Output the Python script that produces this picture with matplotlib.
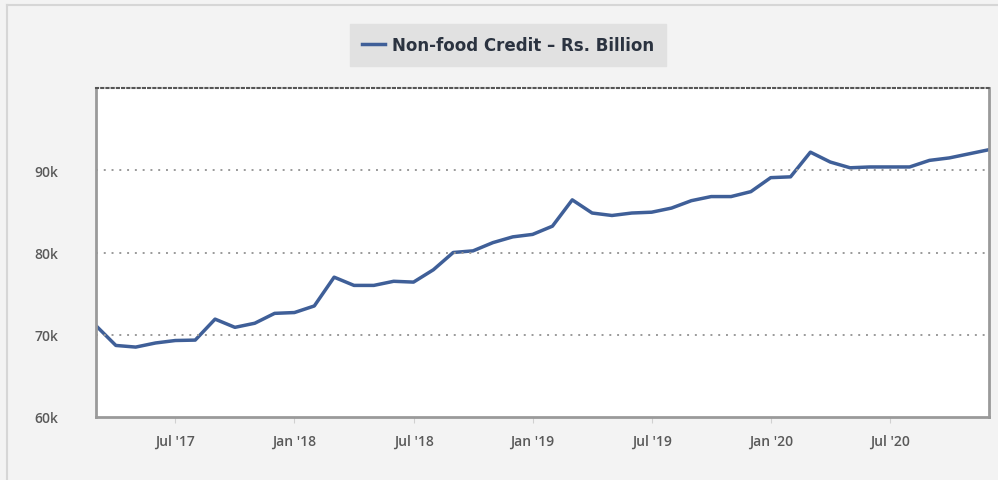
import matplotlib
matplotlib.use("Agg")
import matplotlib.pyplot as plt
from matplotlib.lines import Line2D

# monthly data, Mar 2017 .. Dec 2020 (Rs. Billion)
months = list(range(46))
credit = [71100, 68700, 68500, 69000, 69300, 69350, 71900, 70900, 71400, 72600,
          72700, 73500, 77000, 76000, 76000, 76500, 76400, 77900, 80000, 80200,
          81200, 81900, 82200, 83200, 86400, 84800, 84500, 84800, 84900, 85400,
          86300, 86800, 86800, 87400, 89100, 89200, 92200, 91000, 90300, 90400,
          90400, 90400, 91200, 91500, 92000, 92500]

tick_pos = [4, 10, 16, 22, 28, 34, 40]
tick_labels = ["Jul '17", "Jan '18", "Jul '18", "Jan '19", "Jul '19", "Jan '20", "Jul '20"]
y_ticks = [60000, 70000, 80000, 90000]
y_labels = ["60k", "70k", "80k", "90k"]

plt.rcParams['font.family'] = ['Open Sans', 'DejaVu Sans']

fig = plt.figure(figsize=(9.98, 4.81), dpi=100)
fig.patch.set_facecolor('#f3f3f3')

# outer border (top and left visible)
fig.add_artist(Line2D([7/998, 7/998], [0, 1 - 6/481], transform=fig.transFigure, color='#d6d6d6', lw=1.5))
fig.add_artist(Line2D([7/998, 1], [1 - 6/481, 1 - 6/481], transform=fig.transFigure, color='#d6d6d6', lw=1.5))

ax = fig.add_axes([96/998, 1 - 418/481, (989 - 96)/998, (418 - 89)/481])
ax.set_facecolor('white')

ax.plot(months, credit, color='#3f5f98', lw=2.5, solid_joinstyle='round')

ax.set_xlim(0, 45)
ax.set_ylim(60000, 100000)

for v in [70000, 80000, 90000]:
    ax.axhline(v, color='#9a9a9a', lw=1.4, ls=(0, (1, 3)))

ax.set_yticks(y_ticks)
ax.set_yticklabels(y_labels)
ax.set_xticks(tick_pos)
ax.set_xticklabels(tick_labels)
ax.tick_params(axis='y', length=0, pad=27, labelsize=10, labelcolor='#595959')
ax.tick_params(axis='x', length=4, color='#d0d0d0', pad=8, labelsize=10, labelcolor='#595959')
for lbl in ax.get_xticklabels() + ax.get_yticklabels():
    lbl.set_fontweight('semibold')

for side in ['left', 'right', 'bottom']:
    ax.spines[side].set_color('#9a9a9a')
    ax.spines[side].set_linewidth(2)
ax.spines['top'].set_color('#555555')
ax.spines['top'].set_linewidth(1.5)
ax.spines['top'].set_linestyle((0, (1, 1.5)))

leg = ax.legend(['Non-food Credit – Rs. Billion'], loc='center', bbox_to_anchor=(508/998, 1 - 46/481),
                bbox_transform=fig.transFigure, frameon=True, fancybox=False,
                handlelength=1.4, handletextpad=0.45, borderpad=0.7,
                prop={'family': 'DejaVu Sans', 'weight': 'bold', 'size': 12})
leg.get_frame().set_facecolor('#e1e1e1')
leg.get_frame().set_edgecolor('#e1e1e1')
leg.get_frame().set_alpha(1)
leg.get_texts()[0].set_color('#2b3340')

fig.savefig('out.png', dpi=100, facecolor=fig.get_facecolor())
